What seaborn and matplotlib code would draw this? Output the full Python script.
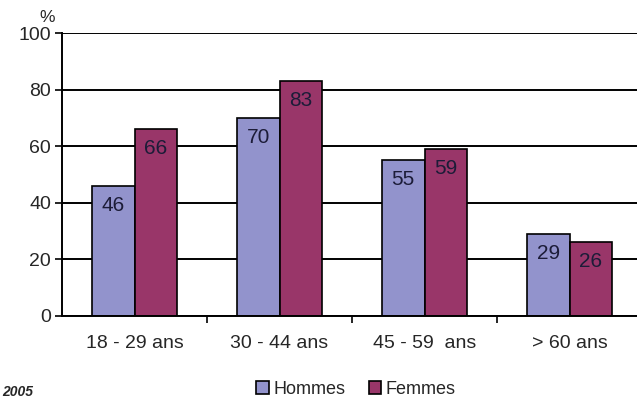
import matplotlib
matplotlib.use("Agg")
import matplotlib.pyplot as plt
import seaborn as sns
import pandas as pd
from matplotlib.patches import Patch

# Tranches d'âge et pourcentages par sexe
categories = ["18 - 29 ans", "30 - 44 ans", "45 - 59  ans", "> 60 ans"]
hommes = [46, 70, 55, 29]
femmes = [66, 83, 59, 26]
series = ["Hommes", "Femmes"]
colors = ["#9293cc", "#993669"]

df = pd.DataFrame({
    "age": categories * 2,
    "sexe": ["Hommes"] * 4 + ["Femmes"] * 4,
    "pct": hommes + femmes,
})

sns.set_style("white")
plt.rcParams["font.family"] = ["Liberation Sans", "DejaVu Sans"]

fig = plt.figure(figsize=(6.37, 3.99), dpi=100)
ax = fig.add_axes([62 / 637, 83 / 399, 580 / 637, 283 / 399])

sns.barplot(data=df, x="age", y="pct", hue="sexe", order=categories,
            hue_order=series, palette=colors, width=0.59, gap=0,
            edgecolor="black", linewidth=1.2, saturation=1,
            legend=False, ax=ax)

ax.set_xlim(-0.5, 3.5)
ax.set_ylim(0, 100)
ax.set_yticks([0, 20, 40, 60, 80, 100])
ax.yaxis.grid(True, color="black", linewidth=1.4)
ax.set_axisbelow(True)
ax.set_xlabel("")
ax.set_ylabel("")

for side in ["top", "right"]:
    ax.spines[side].set_visible(False)
for side in ["left", "bottom"]:
    ax.spines[side].set_visible(True)
    ax.spines[side].set_color("black")
    ax.spines[side].set_linewidth(1.4)

ax.tick_params(axis="y", length=5, width=1.2, color="black",
               labelsize=14, pad=3, left=True)
ax.tick_params(axis="x", which="major", length=0, labelsize=14, pad=14)
ax.set_xticks([0.5, 1.5, 2.5], minor=True)
ax.tick_params(axis="x", which="minor", length=5, width=1.2,
               color="black", bottom=True, direction="out")

# Valeurs inscrites en haut de chaque barre
for cont in ax.containers:
    for bar in cont:
        h = bar.get_height()
        ax.annotate(f"{h:.0f}", (bar.get_x() + bar.get_width() / 2, h),
                    xytext=(0, -14), textcoords="offset points",
                    ha="center", va="center", fontsize=15,
                    color="#1c1c38")

fig.text(47 / 637, 1 - 18 / 399, "%", fontsize=12.5, ha="center", va="center")

handles = [Patch(facecolor=c, edgecolor="black", linewidth=1.2, label=s)
           for c, s in zip(colors, series)]
fig.legend(handles=handles, loc="center", bbox_to_anchor=(356 / 637, 1 - 389 / 399),
           ncol=2, frameon=False, fontsize=13, handlelength=0.7,
           handleheight=0.7, handletextpad=0.25, columnspacing=1.3,
           borderpad=0, borderaxespad=0)

fig.text(2 / 637, 7 / 399, "2005", fontsize=10, fontweight="bold",
         fontstyle="italic", ha="left", va="center")

fig.savefig("out.png", dpi=100)
